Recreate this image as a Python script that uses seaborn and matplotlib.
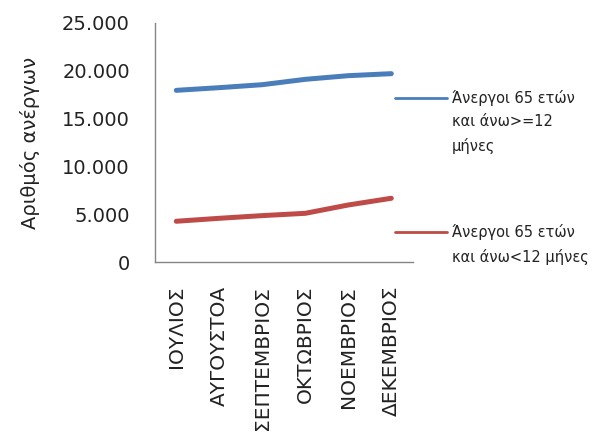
import matplotlib
matplotlib.use('Agg')
import matplotlib.pyplot as plt
import matplotlib.ticker as mticker
from matplotlib.lines import Line2D
import pandas as pd
import seaborn as sns

# Δεδομένα (εκτίμηση από την εικόνα)
months = ['ΙΟΥΛΙΟΣ', 'ΑΥΓΟΥΣΤΟΑ', 'ΣΕΠΤΕΜΒΡΙΟΣ', 'ΟΚΤΩΒΡΙΟΣ', 'ΝΟΕΜΒΡΙΟΣ', 'ΔΕΚΕΜΒΡΙΟΣ']
long_term = [17950, 18230, 18540, 19100, 19480, 19690]
short_term = [4280, 4590, 4870, 5110, 5980, 6680]
series_names = ['Άνεργοι 65 ετών\nκαι άνω>=12\nμήνες', 'Άνεργοι 65 ετών\nκαι άνω<12 μήνες']
colors = ['#4a7ebb', '#be4b48']

df = pd.DataFrame({
    'Μήνας': months * 2,
    'Άνεργοι': long_term + short_term,
    'Σειρά': [series_names[0]] * len(months) + [series_names[1]] * len(months),
})

sns.set_style('white')
plt.rcParams['font.family'] = ['DejaVu Sans']

fig = plt.figure(figsize=(6, 4.43), dpi=100)
ax = fig.add_axes([0.258, 0.408, 0.43, 0.5405])

sns.lineplot(data=df, x='Μήνας', y='Άνεργοι', hue='Σειρά', palette=colors,
             linewidth=3.6, legend=False, ax=ax, sort=False)

ax.set_xlim(-0.5, len(months) - 0.5)
ax.set_ylim(0, 25000)
ax.yaxis.set_major_locator(mticker.MultipleLocator(5000))
ax.yaxis.set_major_formatter(mticker.FuncFormatter(lambda v, p: f'{v:,.0f}'.replace(',', '.')))

ax.set_xticks(range(len(months)))
ax.set_xticklabels(months, rotation=90, fontsize=14.5, color='#222222')
ax.set_xticks([i - 0.5 for i in range(len(months) + 1)], minor=True)
ax.tick_params(axis='x', which='major', length=0, pad=17)
ax.tick_params(axis='x', which='minor', length=6.5, width=1, color='#868686', direction='out')
ax.tick_params(axis='y', length=6, width=1, color='#868686', direction='out',
               labelsize=14, labelcolor='#222222', pad=12)

for side in ['top', 'right']:
    ax.spines[side].set_visible(False)
for side in ['left', 'bottom']:
    ax.spines[side].set_color('#868686')
    ax.spines[side].set_linewidth(1)

ax.set_xlabel('')
ax.set_ylabel('Αριθμός ανέργων', fontsize=14, color='#222222')
ax.yaxis.set_label_coords((40 - 155) / 258, 0.5)

# Υπόμνημα δεξιά
legend_y = [97.7, 232.3]
for name, color, ypx in zip(series_names, colors, legend_y):
    yf = 1 - ypx / 443
    fig.add_artist(Line2D([395 / 600, 447 / 600], [yf, yf], color=color, linewidth=2))
    fig.text(452 / 600, yf + 8 / 443, name, fontsize=10.5, va='top', ha='left',
             linespacing=1.7, color='#222222')

fig.savefig('out.png', dpi=100)
